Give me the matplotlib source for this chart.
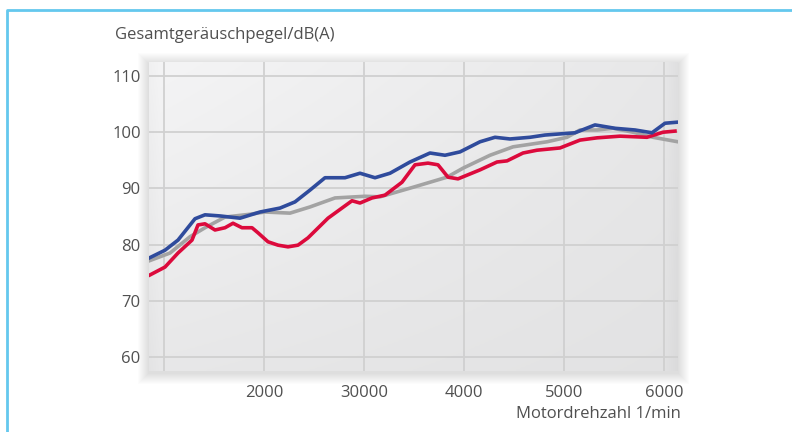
import matplotlib.pyplot as plt
import numpy as np
from matplotlib.patches import Rectangle
from matplotlib.lines import Line2D

# values
rpm_blue = [850, 1010, 1140, 1310, 1410, 1560, 1760, 1960, 2160, 2310, 2460, 2610, 2810,
            2960, 3110, 3260, 3460, 3660, 3810, 3960, 4160, 4310, 4460, 4660, 4810, 5110,
            5310, 5510, 5710, 5880, 6010, 6140]
db_blue = [77.6, 79.0, 80.8, 84.6, 85.3, 85.1, 84.7, 85.8, 86.5, 87.6, 89.7, 91.9, 91.9,
           92.7, 91.9, 92.7, 94.7, 96.3, 95.9, 96.5, 98.3, 99.1, 98.8, 99.1, 99.5, 99.9,
           101.3, 100.7, 100.4, 99.9, 101.6, 101.8]

rpm_gray = [850, 1060, 1260, 1410, 1610, 1860, 2010, 2260, 2460, 2710, 3010, 3160, 3490,
            3830, 3990, 4260, 4490, 4830, 5030, 5160, 5330, 5490, 5690, 5890, 6140]
db_gray = [77.1, 78.5, 81.4, 83.0, 84.9, 85.4, 85.8, 85.6, 86.7, 88.3, 88.6, 88.5, 90.2,
           92.0, 93.6, 95.9, 97.4, 98.3, 99.1, 100.4, 100.4, 100.7, 100.0, 99.1, 98.3]

rpm_red = [860, 1010, 1140, 1280, 1340, 1410, 1510, 1610, 1690, 1780, 1880, 1940, 2040,
           2140, 2240, 2340, 2440, 2640, 2880, 2960, 3080, 3210, 3380, 3510, 3640, 3740,
           3840, 3940, 4160, 4330, 4430, 4590, 4730, 4960, 5160, 5330, 5560, 5830, 5990, 6110]
db_red = [74.6, 76.0, 78.5, 80.8, 83.5, 83.7, 82.6, 83.0, 83.8, 83.0, 83.0, 82.1, 80.5,
          79.9, 79.6, 79.9, 81.2, 84.7, 87.8, 87.4, 88.3, 88.8, 91.1, 94.2, 94.5, 94.2,
          92.0, 91.7, 93.3, 94.7, 94.9, 96.3, 96.8, 97.2, 98.6, 99.0, 99.3, 99.1, 100.0, 100.2]

x_ticks = [1000, 2000, 3000, 4000, 5000, 6000]
x_labels = ['', '2000', '30000', '4000', '5000', '6000']
y_ticks = [60, 70, 80, 90, 100, 110]

plt.rcParams['font.family'] = ['Open Sans', 'DejaVu Sans']
text_col = '#505050'

W, H = 792, 432
fig = plt.figure(figsize=(W / 100, H / 100), dpi=100)
L, R, T, B = 149, 678, 62, 371
ax = fig.add_axes([L / W, 1 - B / H, (R - L) / W, (B - T) / H])

# soft drop shadow around the panel
for i in range(1, 12):
    fig.patches.append(Rectangle(((L - i) / W, 1 - (B + i + 2) / H), (R - L + 2 * i) / W,
                                 (B - T + 2 * i) / H, transform=fig.transFigure,
                                 facecolor='black', edgecolor='none', alpha=0.01, zorder=-5))

# gradient panel background (row 0 = top)
gx = np.linspace(0, 1, 300)
gy = np.linspace(0, 1, 150)
X, Y = np.meshgrid(gx, gy)
shade = 0.958 - 0.05 * X - 0.05 * Y + 0.03 * X * Y
shade -= 0.03 * np.clip((X - 0.972) / 0.028, 0, 1)
shade -= 0.015 * np.clip((0.02 - X) / 0.02, 0, 1)
img = np.dstack([shade, shade, shade * 1.004]).clip(0, 1)
ax.imshow(img, extent=[0, 1, 0, 1], transform=ax.transAxes, aspect='auto', zorder=0)

ax.plot(rpm_gray, db_gray, color='#a3a3a3', lw=2.6, solid_joinstyle='round', zorder=3)
ax.plot(rpm_red, db_red, color='#dc0a3c', lw=2.6, solid_joinstyle='round', zorder=4)
ax.plot(rpm_blue, db_blue, color='#2f4b9c', lw=2.6, solid_joinstyle='round', zorder=5)

ax.set_xlim(850, 6140)
ax.set_ylim(57.5, 112.5)
ax.set_aspect('auto')
ax.set_xticks(x_ticks, x_labels)
ax.set_yticks(y_ticks, [str(v) for v in y_ticks])
ax.grid(color='#d0d0d0', lw=1.3)
ax.set_axisbelow(True)
ax.tick_params(length=0, labelsize=12, labelcolor=text_col)
ax.tick_params(axis='x', pad=10)
ax.tick_params(axis='y', pad=6)
for s in ax.spines.values():
    s.set_visible(False)

fig.text(115 / W, 1 - 35 / H, 'Gesamtgeräuschpegel/dB(A)', fontsize=12, color=text_col,
         ha='left', va='center')
fig.text(681 / W, 1 - 414 / H, 'Motordrehzahl 1/min', fontsize=12, color=text_col,
         ha='right', va='center')

# light blue frame (left and top edges)
fig.lines.append(Line2D([7 / W, 7 / W, 1.01], [-0.01, 1 - 10 / H, 1 - 10 / H],
                        transform=fig.transFigure, color='#64c8ee', lw=2))

fig.savefig('out.png', dpi=100)
